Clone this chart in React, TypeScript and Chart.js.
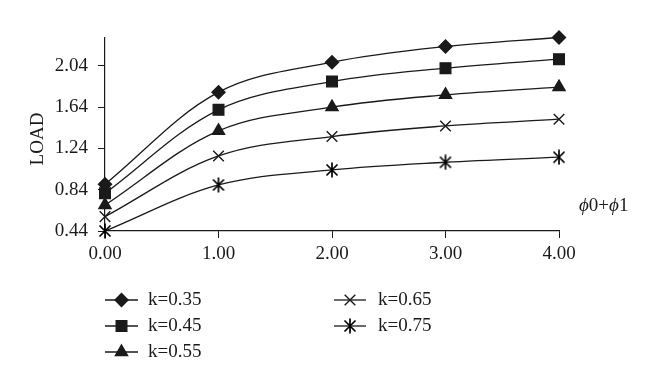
import React, { useEffect, useRef } from "react";
import { Chart, registerables } from "chart.js";
import { drawPoint } from "chart.js/helpers";

Chart.register(...registerables);

const xValues = [0, 1, 2, 3, 4];
const yTickValues = [0.44, 0.84, 1.24, 1.64, 2.04];
const seriesLabels = ["k=0.35", "k=0.45", "k=0.55", "k=0.65", "k=0.75"];
const k035 = [0.893, 1.785, 2.076, 2.228, 2.315];
const k045 = [0.806, 1.614, 1.888, 2.018, 2.105];
const k055 = [0.692, 1.41, 1.64, 1.759, 1.834];
const k065 = [0.579, 1.167, 1.355, 1.458, 1.523];
const k075 = [0.44, 0.886, 1.032, 1.106, 1.155];

const FONT = "'Liberation Serif', 'DejaVu Serif', serif";
const INK = "#1a1a1a";
const FS = 19;

function makeAsterisk(): HTMLCanvasElement {
  const c = document.createElement("canvas");
  c.width = 16;
  c.height = 16;
  const g = c.getContext("2d")!;
  g.strokeStyle = "#000";
  g.lineWidth = 1.7;
  g.beginPath();
  g.moveTo(2.5, 2.5);
  g.lineTo(13.5, 13.5);
  g.moveTo(13.5, 2.5);
  g.lineTo(2.5, 13.5);
  g.moveTo(8, 0.5);
  g.lineTo(8, 15.5);
  g.stroke();
  return c;
}

export default function App() {
  const ref = useRef<HTMLCanvasElement | null>(null);

  useEffect(() => {
    if (!ref.current) return;
    const asterisk = makeAsterisk();
    const styles: any[] = ["rectRot", "rect", "triangle", "crossRot", asterisk];
    const radii = [6.5, 7.5, 7, 7.5, 8];
    const all = [k035, k045, k055, k065, k075];

    const datasets = all.map((vals, i) => ({
      label: seriesLabels[i],
      data: xValues.map((x, j) => ({ x, y: vals[j] })),
      borderColor: INK,
      borderWidth: 1.3,
      backgroundColor: INK,
      pointStyle: styles[i],
      pointRadius: radii[i],
      pointBackgroundColor: INK,
      pointBorderColor: INK,
      pointBorderWidth: 1.4,
      tension: 0.35,
      fill: false,
      clip: false as any,
    }));

    const legendPos = [
      { lx: 105, rx: 138, tx: 148, y: 300 },
      { lx: 105, rx: 138, tx: 148, y: 326 },
      { lx: 105, rx: 138, tx: 148, y: 352 },
      { lx: 334, rx: 366, tx: 378, y: 300 },
      { lx: 334, rx: 366, tx: 378, y: 326 },
    ];

    const decor = {
      id: "decor",
      afterDraw(chart: any) {
        const ctx = chart.ctx as CanvasRenderingContext2D;
        ctx.save();
        ctx.fillStyle = INK;
        ctx.font = `${FS}px ${FONT}`;
        ctx.textAlign = "center";
        ctx.textBaseline = "middle";
        ctx.translate(38, 139);
        ctx.rotate(-Math.PI / 2);
        ctx.fillText("LOAD", 0, 0);
        ctx.restore();

        ctx.save();
        ctx.fillStyle = INK;
        ctx.textBaseline = "middle";
        ctx.textAlign = "left";
        let x = 579;
        const y = 206;
        const parts: [string, boolean][] = [["ϕ", true], ["0+", false], ["ϕ", true], ["1", false]];
        for (const [t, it] of parts) {
          ctx.font = `${it ? "italic " : ""}${FS}px ${FONT}`;
          ctx.fillText(t, x, y);
          x += ctx.measureText(t).width;
        }
        ctx.restore();

        ctx.save();
        chart.data.datasets.forEach((ds: any, i: number) => {
          const p = legendPos[i];
          ctx.strokeStyle = INK;
          ctx.fillStyle = INK;
          ctx.lineWidth = 1.3;
          ctx.beginPath();
          ctx.moveTo(p.lx, p.y);
          ctx.lineTo(p.rx, p.y);
          ctx.stroke();
          ctx.lineWidth = 1.4;
          drawPoint(
            ctx,
            {
              pointStyle: ds.pointStyle,
              radius: ds.pointRadius,
              borderWidth: 1.4,
              rotation: 0,
            } as any,
            (p.lx + p.rx) / 2,
            p.y
          );
          ctx.fillStyle = INK;
          ctx.font = `${FS}px ${FONT}`;
          ctx.textAlign = "left";
          ctx.textBaseline = "middle";
          ctx.fillText(ds.label, p.tx, p.y);
        });
        ctx.restore();
      },
    };

    const chart = new Chart(ref.current, {
      type: "line",
      data: { datasets },
      options: {
        animation: false,
        responsive: false,
        layout: { padding: { top: 38, right: 101, left: 0, bottom: 0 } },
        plugins: { legend: { display: false }, tooltip: { enabled: false } },
        scales: {
          x: {
            type: "linear",
            min: 0,
            max: 4,
            ticks: {
              stepSize: 1,
              color: INK,
              font: { family: FONT, size: FS },
              padding: 5,
              callback: (v: any) => Number(v).toFixed(2),
              maxRotation: 0,
            },
            grid: { drawOnChartArea: false, drawTicks: true, tickLength: 7, color: INK },
            border: { color: INK, width: 1.2 },
            afterFit: (s: any) => {
              s.height = 159;
            },
          },
          y: {
            type: "linear",
            min: 0.44,
            max: 2.31,
            afterBuildTicks: (s: any) => {
              s.ticks = yTickValues.map((v) => ({ value: v }));
            },
            ticks: {
              color: INK,
              font: { family: FONT, size: FS },
              padding: 10,
              callback: (v: any) => Number(v).toFixed(2),
            },
            grid: { drawOnChartArea: false, drawTicks: true, tickLength: 7, color: INK },
            border: { color: INK, width: 1.2 },
            afterFit: (s: any) => {
              s.width = 105;
            },
          },
        },
      },
      plugins: [decor],
    });
    return () => chart.destroy();
  }, []);

  return (
    <div style={{ position: "absolute", left: 0, top: 0, width: 660, height: 390, background: "#fff" }}>
      <canvas ref={ref} width={660} height={390} style={{ display: "block" }} />
    </div>
  );
}
